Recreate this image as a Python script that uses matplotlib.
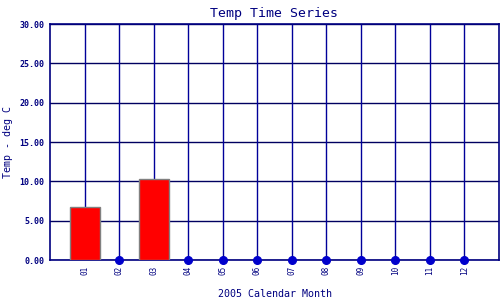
import matplotlib
matplotlib.use("Agg")
import matplotlib.pyplot as plt

# Monthly temperatures for 2005 (0 = no reading)
months = ["01", "02", "03", "04", "05", "06", "07", "08", "09", "10", "11", "12"]
temps = [6.7, 0, 10.35, 0, 0, 0, 0, 0, 0, 0, 0, 0]
y_ticks = [0, 5, 10, 15, 20, 25, 30]

navy = "#000080"
font = "DejaVu Sans Mono"

fig = plt.figure(figsize=(5, 3), dpi=100)
ax = fig.add_axes([50 / 500, 40 / 300, 449 / 500, 236 / 300])

pos = list(range(1, len(months) + 1))
bar_x = [p for p, t in zip(pos, temps) if t > 0]
bar_h = [t for t in temps if t > 0]
zero_x = [p for p, t in zip(pos, temps) if t == 0]

ax.bar(bar_x, bar_h, width=0.87, color="red", edgecolor="gray", linewidth=1, zorder=3)
ax.plot(zero_x, [0] * len(zero_x), "o", color="#0000cc", markersize=5.5,
        clip_on=False, zorder=4)

ax.set_xlim(0, 13)
ax.set_ylim(0, 30)
ax.set_xticks(pos)
ax.set_xticklabels(months, rotation=90, fontsize=5.5, family=font, color=navy)
ax.set_yticks(y_ticks)
ax.set_yticklabels(["%.2f" % v for v in y_ticks], fontsize=6, family=font,
                   color=navy, fontweight="bold")
ax.tick_params(length=0, pad=4)

for v in y_ticks:
    ax.axhline(v, color="#000060", linewidth=1, zorder=1)
for p in pos:
    ax.axvline(p, color="#000099", linewidth=1, zorder=1)
for s in ax.spines.values():
    s.set_color(navy)
    s.set_linewidth(1.2)

ax.set_title("Temp Time Series", fontsize=9.5, family=font, color=navy, pad=5)
ax.set_xlabel("2005 Calendar Month", fontsize=7.2, family=font, color=navy, labelpad=10)
fig.text(8 / 500, 1 - 142 / 300, "Temp - deg C", rotation=90, fontsize=7.2,
         family=font, color=navy, ha="center", va="center")

fig.savefig("out.png", dpi=100)
